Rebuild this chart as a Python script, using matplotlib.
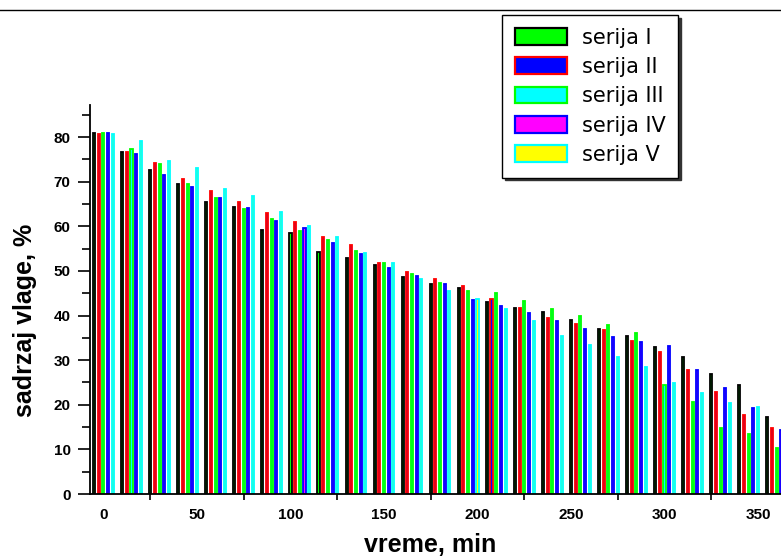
import matplotlib
matplotlib.use("Agg")
import matplotlib.pyplot as plt
import numpy as np
from matplotlib.lines import Line2D
from matplotlib.ticker import FixedLocator, MultipleLocator

plt.rcParams['font.family'] = ['Liberation Sans', 'DejaVu Sans']

time_min = [0, 15, 30, 45, 60, 75, 90, 105, 120, 135, 150, 165, 180,
            195, 210, 225, 240, 255, 270, 285, 300, 315, 330, 345, 360]

serija_I = [81.0, 76.6, 72.7, 69.5, 65.5, 64.4, 59.2, 58.6, 54.3, 53.0, 51.3, 48.6, 47.1,
            46.2, 43.1, 41.8, 40.7, 39.1, 37.0, 35.4, 33.0, 30.8, 26.8, 24.4, 17.3]
serija_II = [80.7, 76.6, 74.2, 70.7, 67.9, 65.5, 62.9, 60.9, 57.7, 55.8, 51.8, 49.8, 48.1,
             46.6, 43.8, 41.8, 39.4, 38.2, 36.8, 34.3, 31.8, 27.9, 22.9, 17.6, 14.9]
serija_III = [80.9, 77.4, 73.9, 69.4, 66.3, 63.8, 61.6, 58.9, 56.9, 54.5, 51.8, 49.4, 47.4,
              45.4, 45.0, 43.3, 41.4, 39.9, 37.9, 36.2, 24.4, 20.7, 14.9, 13.4, 10.2]
serija_IV = [81.0, 76.2, 71.5, 68.8, 66.3, 64.2, 61.2, 59.6, 56.2, 53.7, 50.6, 48.9, 47.1,
             43.5, 42.2, 40.6, 38.7, 37.0, 35.1, 34.0, 33.2, 27.9, 23.7, 19.2, 14.3]
serija_V = [80.7, 79.1, 74.7, 73.0, 68.3, 66.8, 63.2, 60.0, 57.7, 54.1, 51.8, 48.3, 45.6,
            43.8, 41.5, 38.8, 35.5, 33.5, 30.7, 28.4, 24.8, 22.7, 20.5, 19.6, 12.0]

labels = ['serija I', 'serija II', 'serija III', 'serija IV', 'serija V']
series = [serija_I, serija_II, serija_III, serija_IV, serija_V]
faces = ['#00ff00', '#0000ff', '#00ffff', '#ff00ff', '#ffff00']
edges = ['#000000', '#ff0000', '#00ff00', '#0000ff', '#00ffff']

W, H = 781, 556
fig = plt.figure(figsize=(W / 100, H / 100), dpi=100)
ax = fig.add_axes([90 / W, 62 / H, 1 - 90 / W, (494 - 105) / H])

x = np.array(time_min, dtype=float)
offsets = [-5.0, -2.5, 0.0, 2.5, 5.0]
handles = []
for vals, off, fc, ec, lab in zip(series, offsets, faces, edges, labels):
    b = ax.bar(x + off, vals, width=1.1, color=fc, edgecolor=ec, linewidth=1.3,
               label=lab, zorder=2)
    handles.append(b)

ax.set_xlim(-7.2, 362.3)
ax.set_ylim(0, 87.2)

for s in ['top', 'right']:
    ax.spines[s].set_visible(False)
ax.spines['left'].set_linewidth(1.3)
ax.spines['bottom'].set_linewidth(1.3)

ax.xaxis.set_major_locator(FixedLocator([0, 50, 100, 150, 200, 250, 300, 350]))
ax.xaxis.set_minor_locator(FixedLocator([25, 75, 125, 175, 225, 275, 325]))
ax.tick_params(axis='x', which='major', length=0, pad=10)
ax.tick_params(axis='x', which='minor', direction='inout', length=9, width=1.2)
ax.yaxis.set_major_locator(MultipleLocator(10))
ax.yaxis.set_minor_locator(MultipleLocator(5))
ax.tick_params(axis='y', which='major', direction='out', length=9, width=1.2, pad=5)
ax.tick_params(axis='y', which='minor', direction='out', length=6, width=1.2)
for t in ax.get_xticklabels() + ax.get_yticklabels():
    t.set_fontweight('bold')
    t.set_fontsize(11)

ax.set_xlabel('vreme, min', fontsize=18, fontweight='bold', va='center')
ax.xaxis.set_label_coords(0.492, (494 - 545) / 389)
ax.set_ylabel('sadrzaj vlage, %', fontsize=18, fontweight='bold', va='center')
ax.yaxis.set_label_coords((25 - 90) / 691, (494 - 320) / 389)

leg = fig.legend(handles=handles, labels=labels, loc='upper left',
                 bbox_to_anchor=(502 / W, 1 - 15 / H), bbox_transform=fig.transFigure,
                 prop={'family': 'DejaVu Sans', 'size': 15},
                 frameon=True, fancybox=False, edgecolor='black',
                 handlelength=2.5, handleheight=0.87, handletextpad=0.75,
                 labelspacing=0.45, borderpad=0.6, borderaxespad=0,
                 shadow={'color': '0.2', 'alpha': 1})
leg.get_frame().set_linewidth(1.0)
for h in leg.legend_handles:
    h.set_linewidth(1.6)

fig.add_artist(Line2D([0, 1], [1 - 10 / H, 1 - 10 / H], color='black', lw=1.0,
                      transform=fig.transFigure))

fig.savefig('out.png', dpi=100)
